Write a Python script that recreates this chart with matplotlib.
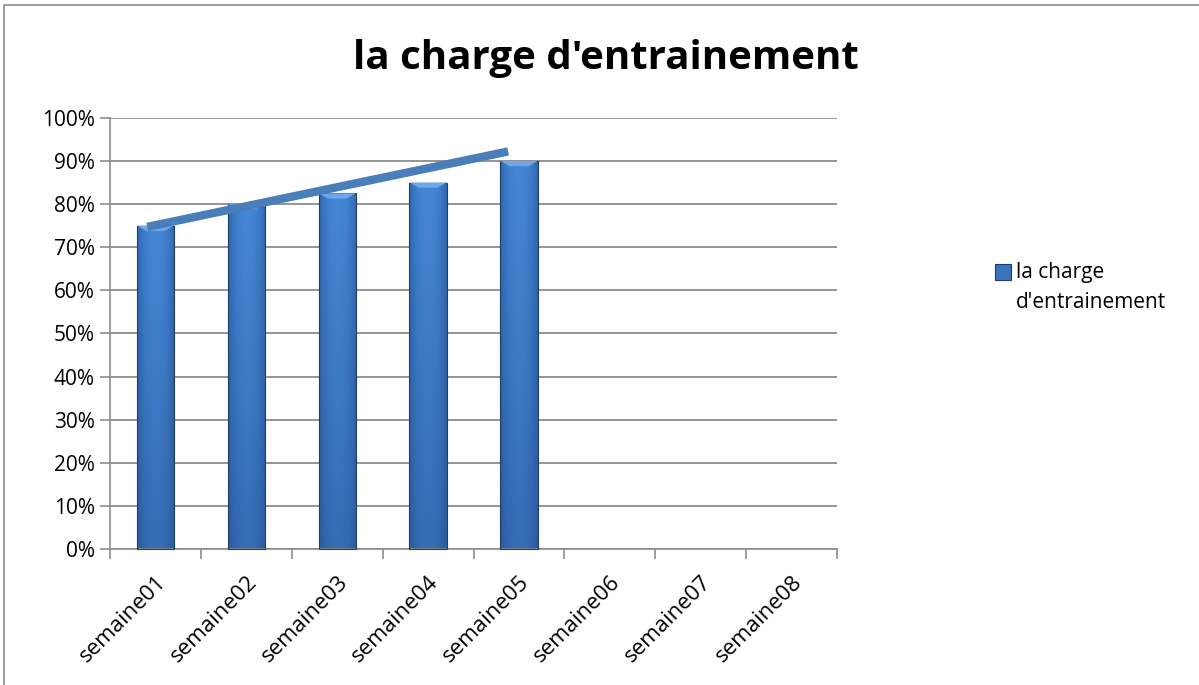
import matplotlib.pyplot as plt
import numpy as np
from matplotlib.patches import Rectangle
from matplotlib.ticker import PercentFormatter

semaines = ['semaine01', 'semaine02', 'semaine03', 'semaine04',
            'semaine05', 'semaine06', 'semaine07', 'semaine08']
charge = [0.75, 0.80, 0.825, 0.85, 0.90]
# straight line drawn over the bars (hand drawn shape)
ligne_x = [-0.09, 3.88]
ligne_y = [0.747, 0.922]

plt.rcParams['font.family'] = ['Open Sans', 'DejaVu Sans']

fig = plt.figure(figsize=(11.99, 6.85), dpi=100)
ax = fig.add_axes([0.0917, 0.1985, 0.6065, 0.6295])

# chart frame
fig.patches.append(Rectangle((4 / 1199, -0.1), 1.2, (685 - 5) / 685 + 0.1,
                             transform=fig.transFigure, fill=False,
                             edgecolor='#8c8c8c', lw=1.2, zorder=0))

# gradient for the bars
nx, ny = 60, 200
u = np.linspace(-1, 1, nx)
side = 1 - 0.55 * np.abs(u) ** 2.2
v = np.linspace(0, 1, ny)[:, None]
base = np.array([0.27, 0.53, 0.84])
dark = np.array([0.13, 0.30, 0.55])
t = (side[None, :] * (0.55 + 0.45 * v))[..., None]
img = dark + (base - dark) * t
img = np.clip(img, 0, 1)

width = 0.41
for i, val in enumerate(charge):
    bars = ax.bar(i, val, width=width, color='none', edgecolor='#1f3d66',
                  lw=0.8, zorder=3)
    r = bars[0]
    im = ax.imshow(img, extent=[i - width / 2, i + width / 2, 0, val],
                   origin='lower', aspect='auto', zorder=2.5,
                   interpolation='bilinear')
    im.set_clip_path(r)
    r.set_clip_on(False)
    # bevel highlight at top
    ax.fill([i - width / 2, i + width / 2, i + width / 4, i - width / 4],
            [val, val, val - 0.012, val - 0.012], color='#6fa8ea', zorder=3.2, lw=0)

ax.plot(ligne_x, ligne_y, color='#4a7ebb', lw=6, solid_capstyle='butt', zorder=4)

ax.set_xlim(-0.5, len(semaines) - 0.5)
ax.set_ylim(0, 1)
ax.set_yticks(np.arange(0, 1.01, 0.1))
ax.yaxis.set_major_formatter(PercentFormatter(1.0, decimals=0))
ax.set_xticks(range(len(semaines)))
ax.set_xticklabels(semaines, rotation=45, ha='right', rotation_mode='anchor',
                   fontsize=16)
ax.set_xticks(np.arange(-0.5, len(semaines)), minor=True)
ax.tick_params(axis='x', which='major', length=0, pad=16)
ax.tick_params(axis='x', which='minor', length=7, color='#8c8c8c', width=1.2)
ax.tick_params(axis='y', length=7, color='#8c8c8c', width=1.2, labelsize=15, pad=4)
ax.grid(axis='y', color='#8c8c8c', lw=1.3, zorder=0)
ax.set_axisbelow(True)
for s in ['top', 'right']:
    ax.spines[s].set_visible(False)
for s in ['left', 'bottom']:
    ax.spines[s].set_color('#8c8c8c')
    ax.spines[s].set_linewidth(1.2)

fig.text(0.505, 0.915, "la charge d'entrainement", ha='center', va='center',
         fontsize=29, fontweight='bold')

# legend
fig.patches.append(Rectangle((995 / 1199, (685 - 280) / 685), 16 / 1199, 16 / 685,
                             transform=fig.transFigure, facecolor='#3a72bd',
                             edgecolor='#1f3d66', lw=0.8))
fig.text(1016 / 1199, (685 - 272) / 685, 'la charge', ha='left', va='center',
         fontsize=15)
fig.text(1016 / 1199, (685 - 303) / 685, "d'entrainement", ha='left', va='center',
         fontsize=15)

fig.savefig('out.png', dpi=100)
